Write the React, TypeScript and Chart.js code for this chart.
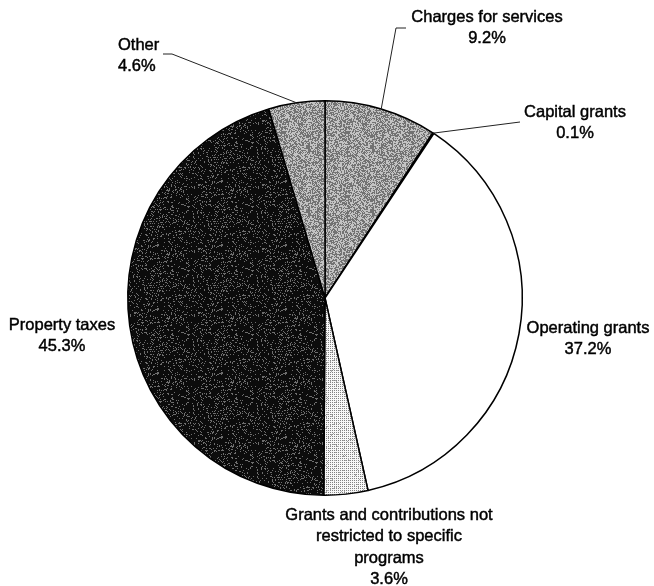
import React, { useEffect, useRef } from "react";
import { Chart, registerables } from "chart.js";

Chart.register(...registerables);

const categories = [
  "Charges for services",
  "Capital grants",
  "Operating grants",
  "Grants and contributions not restricted to specific programs",
  "Property taxes",
  "Other",
];
const shares = [9.2, 0.1, 37.2, 3.6, 45.3, 4.6];
const labelLines = [
  ["Charges for services"],
  ["Capital grants"],
  ["Operating grants"],
  ["Grants and contributions not", "restricted to specific", "programs"],
  ["Property taxes"],
  ["Other"],
];

function hash(x: number, y: number, s: number) {
  let n = Math.imul(x, 374761393) + Math.imul(y, 668265263) + Math.imul(s, 982451653);
  n = Math.imul(n ^ (n >>> 13), 1274126177);
  n = n ^ (n >>> 16);
  return (n >>> 0) / 4294967296;
}

function makePattern(ctx: CanvasRenderingContext2D, kind: string) {
  const size = 64;
  const c = document.createElement("canvas");
  c.width = size;
  c.height = size;
  const g = c.getContext("2d")!;
  const img = g.createImageData(size, size);
  for (let y = 0; y < size; y++) {
    for (let x = 0; x < size; x++) {
      let v = 255;
      const h = hash(x, y, kind.length);
      if (kind === "gray") {
        v = h < 0.5 ? 115 : 195;
      } else if (kind === "dark") {
        v = h < 0.85 ? 12 : 110;
      } else if (kind === "dots") {
        v = x % 2 === 0 && y % 2 === 0 ? 130 : 248;
        if (h < 0.05) v = 170;
      }
      const i = (y * size + x) * 4;
      img.data[i] = v;
      img.data[i + 1] = v;
      img.data[i + 2] = v;
      img.data[i + 3] = 255;
    }
  }
  g.putImageData(img, 0, 0);
  return ctx.createPattern(c, "repeat")!;
}

const placements = [
  { x: 487, y: 17, align: "center", leader: [[406, 28], [396, 28]] },
  { x: 575, y: 112, align: "center", leader: [[520, 122]] },
  { x: 588, y: 328, align: "center", leader: null },
  { x: 389, y: 515, align: "center", leader: null },
  { x: 62, y: 325, align: "center", leader: null },
  { x: 118, y: 45, align: "left", leader: [[163, 54], [172, 54]] },
];

const labelPlugin = {
  id: "pieLabels",
  afterDraw(chart: any) {
    const ctx = chart.ctx as CanvasRenderingContext2D;
    const meta = chart.getDatasetMeta(0);
    ctx.save();
    ctx.font = "16.5px 'Liberation Sans', Arial, sans-serif";
    ctx.fillStyle = "#000";
    ctx.strokeStyle = "#000";
    ctx.textBaseline = "middle";
    const lh = 21.5;
    meta.data.forEach((arc: any, i: number) => {
      const p = placements[i];
      const lines = [...labelLines[i], shares[i].toFixed(1) + "%"];
      ctx.textAlign = p.align as CanvasTextAlign;
      ctx.lineWidth = 0.45;
      lines.forEach((t, k) => {
        ctx.fillText(t, p.x, p.y + k * lh);
        ctx.strokeText(t, p.x, p.y + k * lh);
      });
      if (p.leader) {
        const { x, y, startAngle, endAngle, outerRadius } = arc.getProps(
          ["x", "y", "startAngle", "endAngle", "outerRadius"],
          true
        );
        const mid = (startAngle + endAngle) / 2;
        const ex = x + Math.cos(mid) * outerRadius;
        const ey = y + Math.sin(mid) * outerRadius;
        ctx.beginPath();
        ctx.strokeStyle = "#222";
        ctx.lineWidth = 1;
        ctx.moveTo(p.leader[0][0], p.leader[0][1]);
        for (let k = 1; k < p.leader.length; k++) ctx.lineTo(p.leader[k][0], p.leader[k][1]);
        ctx.lineTo(ex, ey);
        ctx.stroke();
        ctx.strokeStyle = "#000";
      }
    });
    ctx.restore();
  },
};

export default function App() {
  const ref = useRef<HTMLCanvasElement>(null);
  useEffect(() => {
    const canvas = ref.current!;
    const ctx = canvas.getContext("2d")!;
    const fills = [
      makePattern(ctx, "gray"),
      makePattern(ctx, "gray"),
      "#ffffff",
      makePattern(ctx, "dots"),
      makePattern(ctx, "dark"),
      makePattern(ctx, "gray"),
    ];
    const chart = new Chart(canvas, {
      type: "pie",
      data: {
        labels: categories,
        datasets: [
          {
            data: shares,
            backgroundColor: fills as any,
            borderColor: "#000",
            borderWidth: 1.5,
          },
        ],
      },
      options: {
        responsive: false,
        animation: false,
        layout: { padding: { left: 127, right: 131, top: 100, bottom: 90 } },
        plugins: { legend: { display: false }, tooltip: { enabled: false } },
      },
      plugins: [labelPlugin],
    });
    return () => chart.destroy();
  }, []);
  return (
    <div style={{ position: "fixed", left: 0, top: 0, width: 654, height: 586, background: "#fff" }}>
      <canvas ref={ref} width={654} height={586} />
    </div>
  );
}
